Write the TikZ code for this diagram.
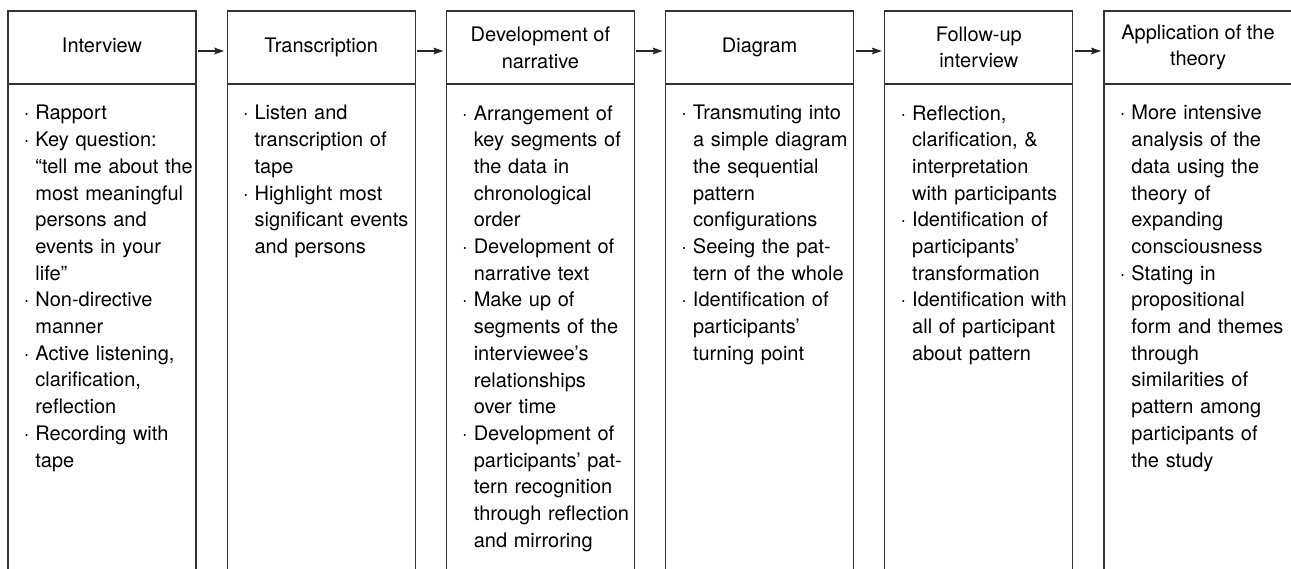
\documentclass[tikz,border=0pt]{standalone}
\usepackage{fontspec}
\setmainfont{TeX Gyre Heros}
\usepackage{tikz}
\usetikzlibrary{positioning}
\usetikzlibrary{arrows.meta}
\tikzset{
	% Two node styles for the stages: heading box and list of steps
	head box/.style={rectangle,draw=black!80,line width=0.6pt,minimum width=94pt,minimum height=36.5pt,inner sep=0pt,outer sep=0pt,align=center},
	one line/.style={text height=7.2pt,text depth=2.6pt},
	step list/.style={anchor=north west,inner sep=0pt,text width=82pt,align=left},
	flow/.style={draw=black!85,line width=0.6pt,-{Stealth[length=5pt,width=3.4pt,inset=0.9pt]}}
}

\begin{document}
\begin{tikzpicture}[font={\fontsize{10}{13.35}\selectfont},node distance=15.6pt]
	% macro for a bulleted line
	\newcommand{\itm}{\leavevmode\llap{·\hspace{3pt}}}
	% macro for the open box below a heading, and its list
	\newcommand{\steps}[3]{
		\draw[black!80,line width=0.6pt](#1.south west)--++(0,-250pt);
		\draw[black!80,line width=0.6pt](#1.south east)--++(0,-250pt);
		\node(#2)[step list]at([shift={(13.5pt,-10.5pt)}]#1.south west){#3};
	}
	\useasboundingbox (0,0) rectangle (645.5pt,-284pt);
	\clip (0,0) rectangle (645.5pt,-284pt);
	
	\node(h1)[head box,one line,anchor=north west]at(4pt,-5.5pt){Interview};
	\node(h2)[head box,one line,right=of h1]{Transcription};
	\node(h3)[head box,right=of h2]{Development of\\narrative};
	\node(h4)[head box,one line,right=of h3]{Diagram};
	\node(h5)[head box,right=of h4]{Follow-up\\interview};
	\node(h6)[head box,right=of h5]{Application of the\\theory};
	
	\foreach \a/\b in {h1/h2,h2/h3,h3/h4,h4/h5,h5/h6}
		\draw[flow]([shift={(1pt,-1.75pt)}]\a.east)--([shift={(-1.5pt,-1.75pt)}]\b.west);
	
	\steps{h1}{s1}{\itm Rapport\\
		\itm Key question:\\
		“tell me about the\\
		most meaningful\\
		persons and\\
		events in your\\
		life”\\
		\itm Non-directive\\
		manner\\
		\itm Active listening,\\
		clarification,\\
		reflection\\
		\itm Recording with\\
		tape}
	\steps{h2}{s2}{\itm Listen and\\
		transcription of\\
		tape\\
		\itm Highlight most\\
		significant events\\
		and persons}
	\steps{h3}{s3}{\itm Arrangement of\\
		key segments of\\
		the data in\\
		chronological\\
		order\\
		\itm Development of\\
		narrative text\\
		\itm Make up of\\
		segments of the\\
		interviewee’s\\
		relationships\\
		over time\\
		\itm Development of\\
		participants’ pat-\\
		tern recognition\\
		through reflection\\
		and mirroring}
	\steps{h4}{s4}{\itm Transmuting into\\
		a simple diagram\\
		the sequential\\
		pattern\\
		configurations\\
		\itm Seeing the pat-\\
		tern of the whole\\
		\itm Identification of\\
		participants’\\
		turning point}
	\steps{h5}{s5}{\itm Reflection,\\
		clarification, \&\\
		interpretation\\
		with participants\\
		\itm Identification of\\
		participants’\\
		transformation\\
		\itm Identification with\\
		all of participant\\
		about pattern}
	\steps{h6}{s6}{\itm More intensive\\
		analysis of the\\
		data using the\\
		theory of\\
		expanding\\
		consciousness\\
		\itm Stating in\\
		propositional\\
		form and themes\\
		through\\
		similarities of\\
		pattern among\\
		participants of\\
		the study}
\end{tikzpicture}
\end{document}
